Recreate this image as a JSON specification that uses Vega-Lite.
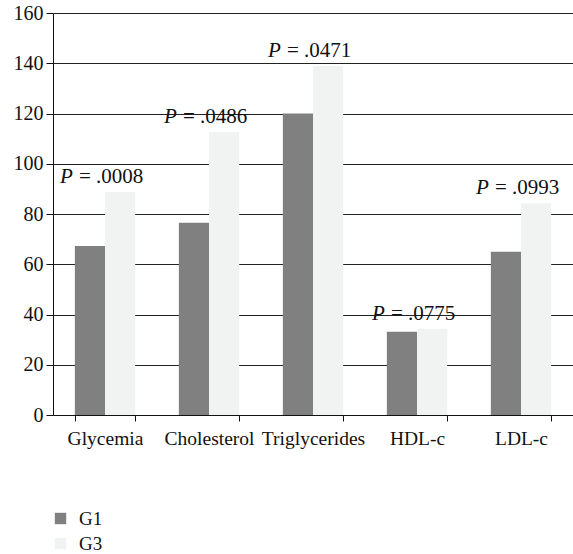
{
  "$schema": "https://vega.github.io/schema/vega-lite/v6.json",
  "width": 520,
  "height": 402,
  "padding": {"left": 13, "top": 3, "right": 0, "bottom": 0},
  "background": "white",
  "config": {
    "font": "Liberation Serif",
    "view": {"stroke": null}
  },
  "data": {
    "values": [
      {"category": "Glycemia", "group": "G1", "value": 67.3, "p": "=\u00a0.0008"},
      {"category": "Glycemia", "group": "G3", "value": 88.8, "p": "=\u00a0.0008"},
      {"category": "Cholesterol", "group": "G1", "value": 76.5, "p": "=\u00a0.0486"},
      {"category": "Cholesterol", "group": "G3", "value": 112.6, "p": "=\u00a0.0486"},
      {"category": "Triglycerides", "group": "G1", "value": 120, "p": "=\u00a0.0471"},
      {"category": "Triglycerides", "group": "G3", "value": 138.9, "p": "=\u00a0.0471"},
      {"category": "HDL-c", "group": "G1", "value": 33.1, "p": "=\u00a0.0775"},
      {"category": "HDL-c", "group": "G3", "value": 34.3, "p": "=\u00a0.0775"},
      {"category": "LDL-c", "group": "G1", "value": 65, "p": "=\u00a0.0993"},
      {"category": "LDL-c", "group": "G3", "value": 84.3, "p": "=\u00a0.0993"}
    ]
  },
  "encoding": {
    "x": {
      "field": "category",
      "type": "nominal",
      "sort": null,
      "scale": {"paddingInner": 0.42, "paddingOuter": 0.21},
      "axis": {
        "title": null,
        "labelAngle": 0,
        "labelFontSize": 19.5,
        "labelColor": "#111",
        "labelPadding": 8,
        "tickBand": "extent",
        "tickSize": 6,
        "tickColor": "#111",
        "domainColor": "#111",
        "grid": false
      }
    },
    "y": {
      "field": "value",
      "type": "quantitative",
      "scale": {"domain": [0, 160], "nice": false},
      "axis": {
        "title": null,
        "values": [0, 20, 40, 60, 80, 100, 120, 140, 160],
        "labelFontSize": 20,
        "labelColor": "#111",
        "tickSize": 7,
        "tickColor": "#111",
        "domainColor": "#111",
        "gridColor": "#222",
        "gridWidth": 1,
        "labelPadding": 3
      }
    }
  },
  "layer": [
    {
      "mark": {"type": "bar"},
      "encoding": {
        "xOffset": {"field": "group", "type": "nominal", "scale": {"paddingInner": 0, "paddingOuter": 0}},
        "color": {
          "field": "group",
          "type": "nominal",
          "scale": {"domain": ["G1", "G3"], "range": ["#808080", "#f1f2f2"]},
          "legend": {
            "title": null,
            "orient": "none",
            "legendX": -2,
            "legendY": 496,
            "symbolType": "square",
            "symbolSize": 130,
            "symbolStrokeWidth": 0,
            "labelFontSize": 19,
            "labelColor": "#111",
            "rowPadding": 5,
            "labelOffset": 9
          }
        }
      }
    },
    {
      "transform": [{"filter": "datum.group === 'G3'"}],
      "mark": {"type": "text", "fontStyle": "italic", "fontSize": 21, "align": "left", "baseline": "alphabetic", "dx": -45, "dy": -9, "color": "#111"},
      "encoding": {"text": {"value": "P"}}
    },
    {
      "transform": [{"filter": "datum.group === 'G3'"}],
      "mark": {"type": "text", "fontSize": 21, "align": "left", "baseline": "alphabetic", "dx": -26, "dy": -9, "color": "#111"},
      "encoding": {"text": {"field": "p"}}
    }
  ]
}
